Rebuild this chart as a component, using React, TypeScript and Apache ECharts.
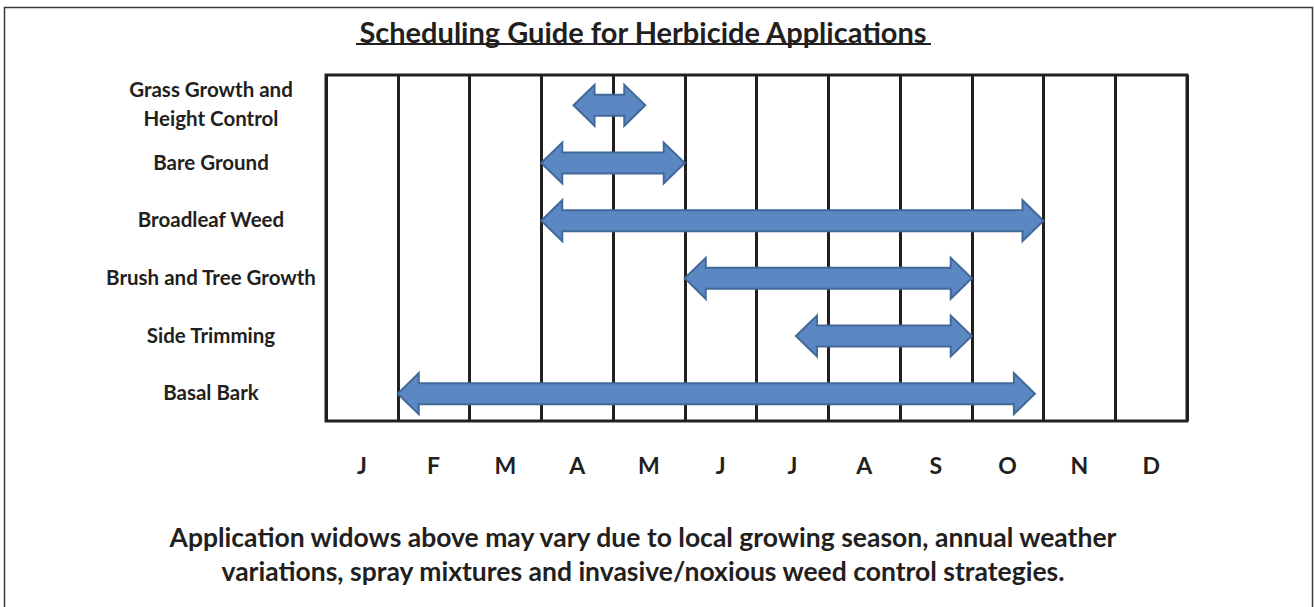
import React, { useEffect, useRef } from "react";
import * as echarts from "echarts";

const titleText = "Scheduling Guide for Herbicide Applications";
const months = ["J", "F", "M", "A", "M", "J", "J", "A", "S", "O", "N", "D"];
const categories = [
  "Grass Growth and\nHeight Control",
  "Bare Ground",
  "Broadleaf Weed",
  "Brush and Tree Growth",
  "Side Trimming",
  "Basal Bark",
];
const startMonths = [3.45, 3.0, 3.0, 5.0, 6.55, 1.0];
const endMonths = [4.45, 5.0, 10.0, 9.0, 9.0, 9.88];
const footerLines = [
  "Application widows above may vary due to local growing season, annual weather",
  "variations, spray mixtures and invasive/noxious weed control strategies.",
];

const INK = "#231f20";
const FONT = "Lato";

export default function App() {
  const ref = useRef<HTMLDivElement>(null);
  useEffect(() => {
    document.body.style.margin = "0";
    const chart = echarts.init(ref.current!, null, { renderer: "svg" });
    const data = categories.map((_, i) => [i, startMonths[i], endMonths[i]]);
    chart.setOption({
      animation: false,
      backgroundColor: "#ffffff",
      grid: {
        left: 326,
        right: 127,
        top: 75,
        bottom: 186,
        show: true,
        borderColor: INK,
        borderWidth: 3,
        backgroundColor: "transparent",
      },
      xAxis: [
        {
          type: "category",
          data: months,
          boundaryGap: true,
          axisLine: { show: false },
          axisTick: { show: false },
          splitLine: { show: true, lineStyle: { color: INK, width: 3 } },
          axisLabel: {
            interval: 0,
            margin: 32,
            fontFamily: FONT,
            fontWeight: "bold",
            fontSize: 23,
            color: INK,
          },
        },
        {
          type: "value",
          min: 0,
          max: 12,
          show: false,
          splitLine: { show: false },
        },
      ],
      yAxis: [
        {
          type: "category",
          data: categories,
          inverse: true,
          axisLine: { show: false },
          axisTick: { show: false },
          splitLine: { show: false },
          axisLabel: {
            interval: 0,
            align: "center",
            margin: 115,
            fontFamily: FONT,
            fontWeight: "bold",
            fontSize: 20.5,
            lineHeight: 29,
            color: INK,
          },
        },
      ],
      series: [
        {
          type: "custom",
          xAxisIndex: 1,
          yAxisIndex: 0,
          data,
          renderItem: (params: any, api: any) => {
            const row = api.value(0);
            const p1 = api.coord([api.value(1), row]);
            const p2 = api.coord([api.value(2), row]);
            const x1 = p1[0];
            const x2 = p2[0];
            const cy = p1[1] + 1.5;
            const hl = 21;
            const hh = 20.5;
            const sh = 10.5;
            return {
              type: "polygon",
              shape: {
                points: [
                  [x1, cy],
                  [x1 + hl, cy - hh],
                  [x1 + hl, cy - sh],
                  [x2 - hl, cy - sh],
                  [x2 - hl, cy - hh],
                  [x2, cy],
                  [x2 - hl, cy + hh],
                  [x2 - hl, cy + sh],
                  [x1 + hl, cy + sh],
                  [x1 + hl, cy + hh],
                ],
              },
              style: { fill: "#5b87c2", stroke: "#41699a", lineWidth: 2 },
            };
          },
        },
      ],
      graphic: [
        {
          type: "rect",
          shape: { x: 4.5, y: 7.5, width: 1308, height: 640 },
          style: { fill: "none", stroke: "#3a3a3a", lineWidth: 1.5 },
          silent: true,
        },
        {
          type: "text",
          x: 643,
          y: 31,
          style: {
            text: titleText,
            fontFamily: FONT,
            fontWeight: "bold",
            fontSize: 29,
            fill: INK,
            align: "center",
            verticalAlign: "middle",
          },
        },
        {
          type: "line",
          shape: { x1: 356, y1: 44, x2: 931, y2: 44 },
          style: { stroke: INK, lineWidth: 2 },
        },
        {
          type: "text",
          x: 643,
          y: 537,
          style: {
            text: footerLines[0],
            fontFamily: FONT,
            fontWeight: "bold",
            fontSize: 26.5,
            fill: INK,
            align: "center",
            verticalAlign: "middle",
          },
        },
        {
          type: "text",
          x: 643,
          y: 571,
          style: {
            text: footerLines[1],
            fontFamily: FONT,
            fontWeight: "bold",
            fontSize: 26.5,
            fill: INK,
            align: "center",
            verticalAlign: "middle",
          },
        },
      ],
    });
    return () => chart.dispose();
  }, []);
  return (
    <div
      ref={ref}
      style={{ position: "fixed", left: 0, top: 0, width: 1314, height: 607 }}
    />
  );
}
